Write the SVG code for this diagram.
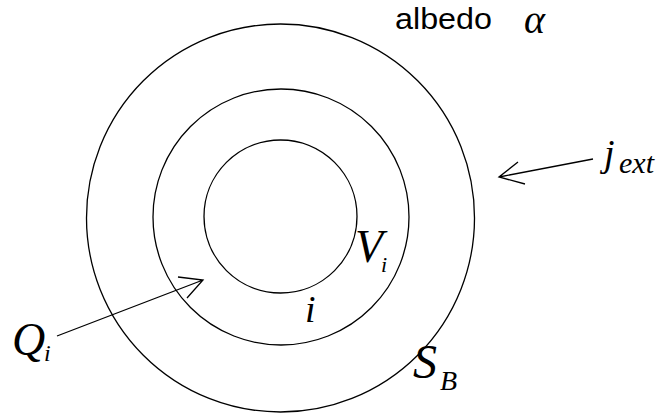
<svg xmlns="http://www.w3.org/2000/svg" width="664" height="416" viewBox="0 0 664 416">
<style>
.c{fill:none;stroke:#000;stroke-width:1.3}
.a{fill:none;stroke:#000;stroke-width:1.3}
.m{font-family:"Liberation Serif",serif;font-style:italic;fill:#000}
.s{font-family:"Liberation Sans",sans-serif;fill:#000}
</style>
<rect width="664" height="416" fill="#fff"/>
<g id="outer"><circle class="c" cx="280.5" cy="218" r="194"/></g>
<g id="middle"><circle class="c" cx="281" cy="217" r="128"/></g>
<g id="inner"><circle class="c" cx="280.5" cy="216.5" r="76.5"/></g>
<g id="connectors">
<path class="a" d="M57 336 L203 280 M178 277 L203 280 L187 298"/>
<path class="a" d="M593 159 L499 177 M518 162 L499 177 L525 184"/>
</g>
<g id="labels">
<text class="s" x="395" y="29" font-size="30" textLength="97" lengthAdjust="spacingAndGlyphs">albedo</text>
<text class="m" x="524" y="33" font-size="40">α</text>
<text class="m" x="604" y="166" font-size="38">j</text>
<text class="m" x="619" y="173" font-size="30">ext</text>
<text class="m" x="355" y="262" font-size="46">V</text>
<text class="m" x="381" y="272" font-size="22">i</text>
<text class="m" x="305" y="322" font-size="38">i</text>
<text class="m" x="12" y="355" font-size="46">Q</text>
<text class="m" x="44" y="361" font-size="24">i</text>
<text class="m" x="413" y="378" font-size="48">S</text>
<text class="m" x="440" y="390" font-size="28">B</text>
</g>
</svg>
